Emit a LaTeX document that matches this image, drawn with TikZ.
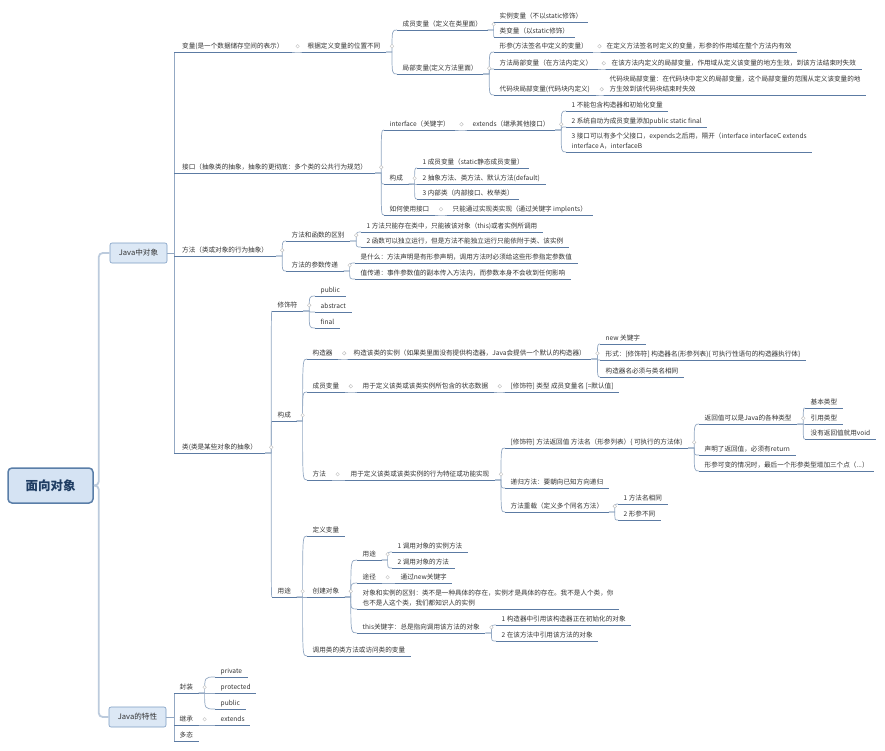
\documentclass[tikz,border=0pt]{standalone}
\usepackage{fontspec}
\setmainfont{Noto Sans CJK SC}
\definecolor{txt}{HTML}{333333}
\definecolor{ulc}{HTML}{5C7BA3}
\definecolor{brc}{HTML}{93A8C3}
\definecolor{boxfill}{HTML}{DCE8F5}
\definecolor{boxdraw}{HTML}{7C9CC2}
\definecolor{rootdraw}{HTML}{5A7EA8}
\definecolor{rootfill}{HTML}{D5E3F3}
\definecolor{roottxt}{HTML}{1F3D63}
\definecolor{trunkc}{HTML}{BCCBDD}
\begin{document}
\begin{tikzpicture}[x=1pt,y=-1pt,
  tb/.style={anchor=south west, inner xsep=5.5pt, inner ysep=2.2pt, text depth=1.3pt,
    font=\fontsize{6.6}{10}\selectfont, text=txt},
  tx/.style={tb, text height=5.4pt},
  txm/.style={tb, align=left},
  t1/.style={tx, inner xsep=8pt},
  bx/.style={draw=boxdraw, fill=boxfill, rounded corners=2pt, line width=0.6pt,
    minimum width=57pt, minimum height=20pt, inner sep=1pt,
    font=\fontsize{7.6}{9}\selectfont, text=txt},
  rt/.style={draw=rootdraw, fill=rootfill, rounded corners=4pt, line width=1.5pt,
    minimum width=85pt, minimum height=35pt, inner sep=1pt,
    font=\fontsize{12.5}{14}\selectfont\bfseries, text=roottxt},
  uline/.style={draw=ulc, line width=1pt},
  br/.style={draw=brc, line width=0.7pt,
    to path={-- ++(6pt,0) coordinate (brk) .. controls (brk |- \tikztotarget) .. (\tikztotarget)}},
  spine/.style={draw=brc, line width=0.8pt},
  trunk/.style={draw=trunkc, line width=1.8pt, rounded corners=4pt},
  mk/.style={draw=black!25, fill=white, line width=0.4pt}
]
\fill[white] (0,0) rectangle (885,750);
\useasboundingbox (0,0) rectangle (885,750);

% boxes
\node[rt] (root) at (50.5,485.5) {面向对象};
\node[bx] (jo) at (138.5,253) {Java中对象};
\node[bx] (jt) at (137.5,717) {Java的特性};

% level 1 (Java中对象)
\node[t1] (bl) at (174,52) {变量(是一个数据储存空间的表示）};
\node[t1] (jk) at (174,173) {接口（抽象类的抽象，抽象的更彻底：多个类的公共行为规范）};
\node[t1] (ff) at (174,256) {方法（类或对象的行为抽象）};
\node[t1] (lei) at (174,453) {类(类是某些对象的抽象）};

% 变量
\node[tx] (gj) at (302,52) {根据定义变量的位置不同};
\node[tx] (cy) at (397,30) {成员变量（定义在类里面）};
\node[tx] (jb) at (397,74) {局部变量(定义方法里面）};
\node[tx] (sl) at (494,22) {实例变量（不以static修饰）};
\node[tx] (lb) at (494,37) {类变量（以static修饰）};
\node[tx] (xc) at (494,52) {形参(方法签名中定义的变量）};
\node[tx] (xcd) at (601,52) {在定义方法签名时定义的变量，形参的作用域在整个方法内有效};
\node[tx] (fj) at (494,69) {方法局部变量（在方法内定义）};
\node[tx] (fjd) at (606,69) {在该方法内定义的局部变量，作用域从定义该变量的地方生效，到该方法结束时失效};
\node[tx] (dk) at (494,95) {代码块局部变量(代码块内定义)};
\node[txm] (dkd) at (604,95) {代码块局部变量：在代码块中定义的局部变量，这个局部变量的范围从定义该变量的地\\方生效到该代码块结束时失效};

% 接口
\node[tx] (itf) at (384,130) {interface（关键字）};
\node[tx] (ext) at (467,130) {extends（继承其他接口）};
\node[tx] (e1) at (566,111) {1 不能包含构造器和初始化变量};
\node[tx] (e2) at (566,127) {2 系统自动为成员变量添加public static final};
\node[txm] (e3) at (566,152) {3 接口可以有多个父接口，expends之后用，隔开（interface interfaceC extends\\interface A，interfaceB};
\node[tx] (gc1) at (384,184) {构成};
\node[tx] (g1) at (417,168) {1 成员变量（static静态成员变量）};
\node[tx] (g2) at (417,184) {2 抽象方法、类方法、默认方法(default)};
\node[tx] (g3) at (417,199) {3 内部类（内部接口、枚举类）};
\node[tx] (ry) at (384,215) {如何使用接口};
\node[tx] (ry1) at (447,215) {只能通过实现类实现（通过关键字 implents）};

% 方法
\node[tx] (ffq) at (286,241) {方法和函数的区别};
\node[tx] (q1) at (361,232) {1 方法只能存在类中，只能被该对象（this)或者实例所调用};
\node[tx] (q2) at (361,247) {2 函数可以独立运行，但是方法不能独立运行只能依附于类、该实例};
\node[tx] (ffc) at (286,271) {方法的参数传递};
\node[tx] (c1) at (355,263) {是什么：方法声明是有形参声明，调用方法时必须给这些形参指定参数值};
\node[tx] (c2) at (355,279) {值传递：事件参数值的副本传入方法内，而参数本身不会收到任何影响};

% 类
\node[tx] (xsf) at (272,311) {修饰符};
\node[tx] (pub) at (315,296) {public};
\node[tx] (abs) at (315,312) {abstract};
\node[tx] (fin) at (315,328) {final};
\node[tx] (gc2) at (272,421) {构成};
\node[tx] (gzq) at (307,359) {构造器};
\node[tx] (gzqd) at (348,359) {构造该类的实例（如果类里面没有提供构造器，Java会提供一个默认的构造器）};
\node[tx] (n1) at (600,344) {new 关键字};
\node[tx] (n2) at (600,360) {形式：[修饰符] 构造器名(形参列表)\{ 可执行性语句的构造器执行体\}};
\node[tx] (n3) at (600,377) {构造器名必须与类名相同};
\node[tx] (cybl) at (307,392) {成员变量};
\node[tx] (cybld) at (357,392) {用于定义该类或该类实例所包含的状态数据};
\node[tx] (cybld2) at (505,392) {[修饰符] 类型 成员变量名 [=默认值]};
\node[tx] (ffx) at (307,480) {方法};
\node[tx] (ffxd) at (345,480) {用于定义该类或该类实例的行为特征或功能实现};
\node[tx] (fz) at (505,448) {[修饰符] 方法返回值 方法名（形参列表）\{ 可执行的方法体\}};
\node[tx] (fh1) at (699,424) {返回值可以是Java的各种类型};
\node[tx] (b1) at (805,408) {基本类型};
\node[tx] (b2) at (805,424) {引用类型};
\node[tx] (b3) at (805,439) {没有返回值就用void};
\node[tx] (fh2) at (699,455) {声明了返回值，必须有return};
\node[tx] (fh3) at (699,471) {形参可变的情况时，最后一个形参类型增加三个点（...）};
\node[tx] (dg) at (505,488) {递归方法：要朝向已知方向递归};
\node[tx] (cz) at (505,512) {方法重载（定义多个同名方法）};
\node[tx] (cz1) at (618,504) {1 方法名相同};
\node[tx] (cz2) at (618,520) {2 形参不同};
\node[tx] (yt) at (272,597) {用途};
\node[tx] (dybl) at (307,536) {定义变量};
\node[tx] (cjdx) at (307,597) {创建对象};
\node[tx] (yt2) at (357,560) {用途};
\node[tx] (yt2a) at (392,552) {1 调用对象的实例方法};
\node[tx] (yt2b) at (392,568) {2 调用对象的方法};
\node[tx] (tj) at (357,583) {途径};
\node[tx] (tja) at (395,583) {通过new关键字};
\node[txm] (qb) at (357,609) {对象和实例的区别：类不是一种具体的存在，实例才是具体的存在。我不是人个类，你\\也不是人这个类，我们都知识人的实例};
\node[tx] (thisk) at (357,633) {this关键字：总是指向调用该方法的对象};
\node[tx] (th1) at (496,625) {1 构造器中引用该构造器正在初始化的对象};
\node[tx] (th2) at (496,641) {2 在该方法中引用该方法的对象};
\node[tx] (dyl) at (307,656) {调用类的类方法或访问类的变量};

% Java的特性
\node[tx] (fz2) at (174,693) {封装};
\node[tx] (pri) at (215,677) {private};
\node[tx] (pro) at (215,693) {protected};
\node[tx] (pub2) at (215,709) {public};
\node[tx] (jc) at (174,725) {继承};
\node[tx] (ext2) at (215,725) {extends};
\node[tx] (dt) at (174,741) {多态};

% trunk and spines
\draw[trunk] (root.east) -- ++(5,0) |- (jo.west);
\draw[trunk] (root.east) -- ++(5,0) |- (jt.west);
\draw[spine] (jo.east) -- (jo.east -| bl.south west);
\draw[spine] (bl.south west) -- (lei.south west);
\draw[spine] (jt.east) -- (jt.east -| fz2.south west);
\draw[spine] (fz2.south west) -- (dt.south west);

% branches
\foreach \p/\c in {bl/gj, gj/cy, gj/jb, cy/sl, cy/lb, jb/xc, jb/fj, jb/dk, xc/xcd, fj/fjd, dk/dkd,
  jk/itf, jk/gc1, jk/ry, itf/ext, ext/e1, ext/e2, ext/e3, gc1/g1, gc1/g2, gc1/g3, ry/ry1,
  ff/ffq, ff/ffc, ffq/q1, ffq/q2, ffc/c1, ffc/c2,
  lei/xsf, lei/gc2, lei/yt, xsf/pub, xsf/abs, xsf/fin,
  gc2/gzq, gc2/cybl, gc2/ffx, gzq/gzqd, gzqd/n1, gzqd/n2, gzqd/n3,
  cybl/cybld, cybld/cybld2, ffx/ffxd, ffxd/fz, ffxd/dg, ffxd/cz,
  fz/fh1, fz/fh2, fz/fh3, fh1/b1, fh1/b2, fh1/b3, cz/cz1, cz/cz2,
  yt/dybl, yt/cjdx, yt/dyl, cjdx/yt2, cjdx/tj, cjdx/qb, cjdx/thisk,
  yt2/yt2a, yt2/yt2b, tj/tja, thisk/th1, thisk/th2,
  fz2/pri, fz2/pro, fz2/pub2, jc/ext2}
  \draw[br] (\p.south east) to (\c.south west);

% underlines
\foreach \n in {bl,gj,cy,jb,sl,lb,xc,xcd,fj,fjd,dk,dkd,jk,itf,ext,e1,e2,e3,gc1,g1,g2,g3,ry,ry1,
  ff,ffq,q1,q2,ffc,c1,c2,lei,xsf,pub,abs,fin,gc2,gzq,gzqd,n1,n2,n3,cybl,cybld,cybld2,
  ffx,ffxd,fz,fh1,b1,b2,b3,fh2,fh3,dg,cz,cz1,cz2,yt,dybl,cjdx,yt2,yt2a,yt2b,tj,tja,qb,
  thisk,th1,th2,dyl,fz2,pri,pro,pub2,jc,ext2,dt}
  \draw[uline] (\n.south west) -- (\n.south east);

% collapse markers
\foreach \p in {bl,gj,cy,jb,xc,fj,dk,jk,itf,ext,gc1,ry,ff,ffq,ffc,lei,xsf,gc2,gzq,gzqd,
  cybl,cybld,ffx,ffxd,fz,fh1,cz,yt,cjdx,yt2,tj,thisk,fz2,jc}
  \draw[mk] ([xshift=6pt]\p.east) circle (1.8pt);
\end{tikzpicture}
\end{document}
